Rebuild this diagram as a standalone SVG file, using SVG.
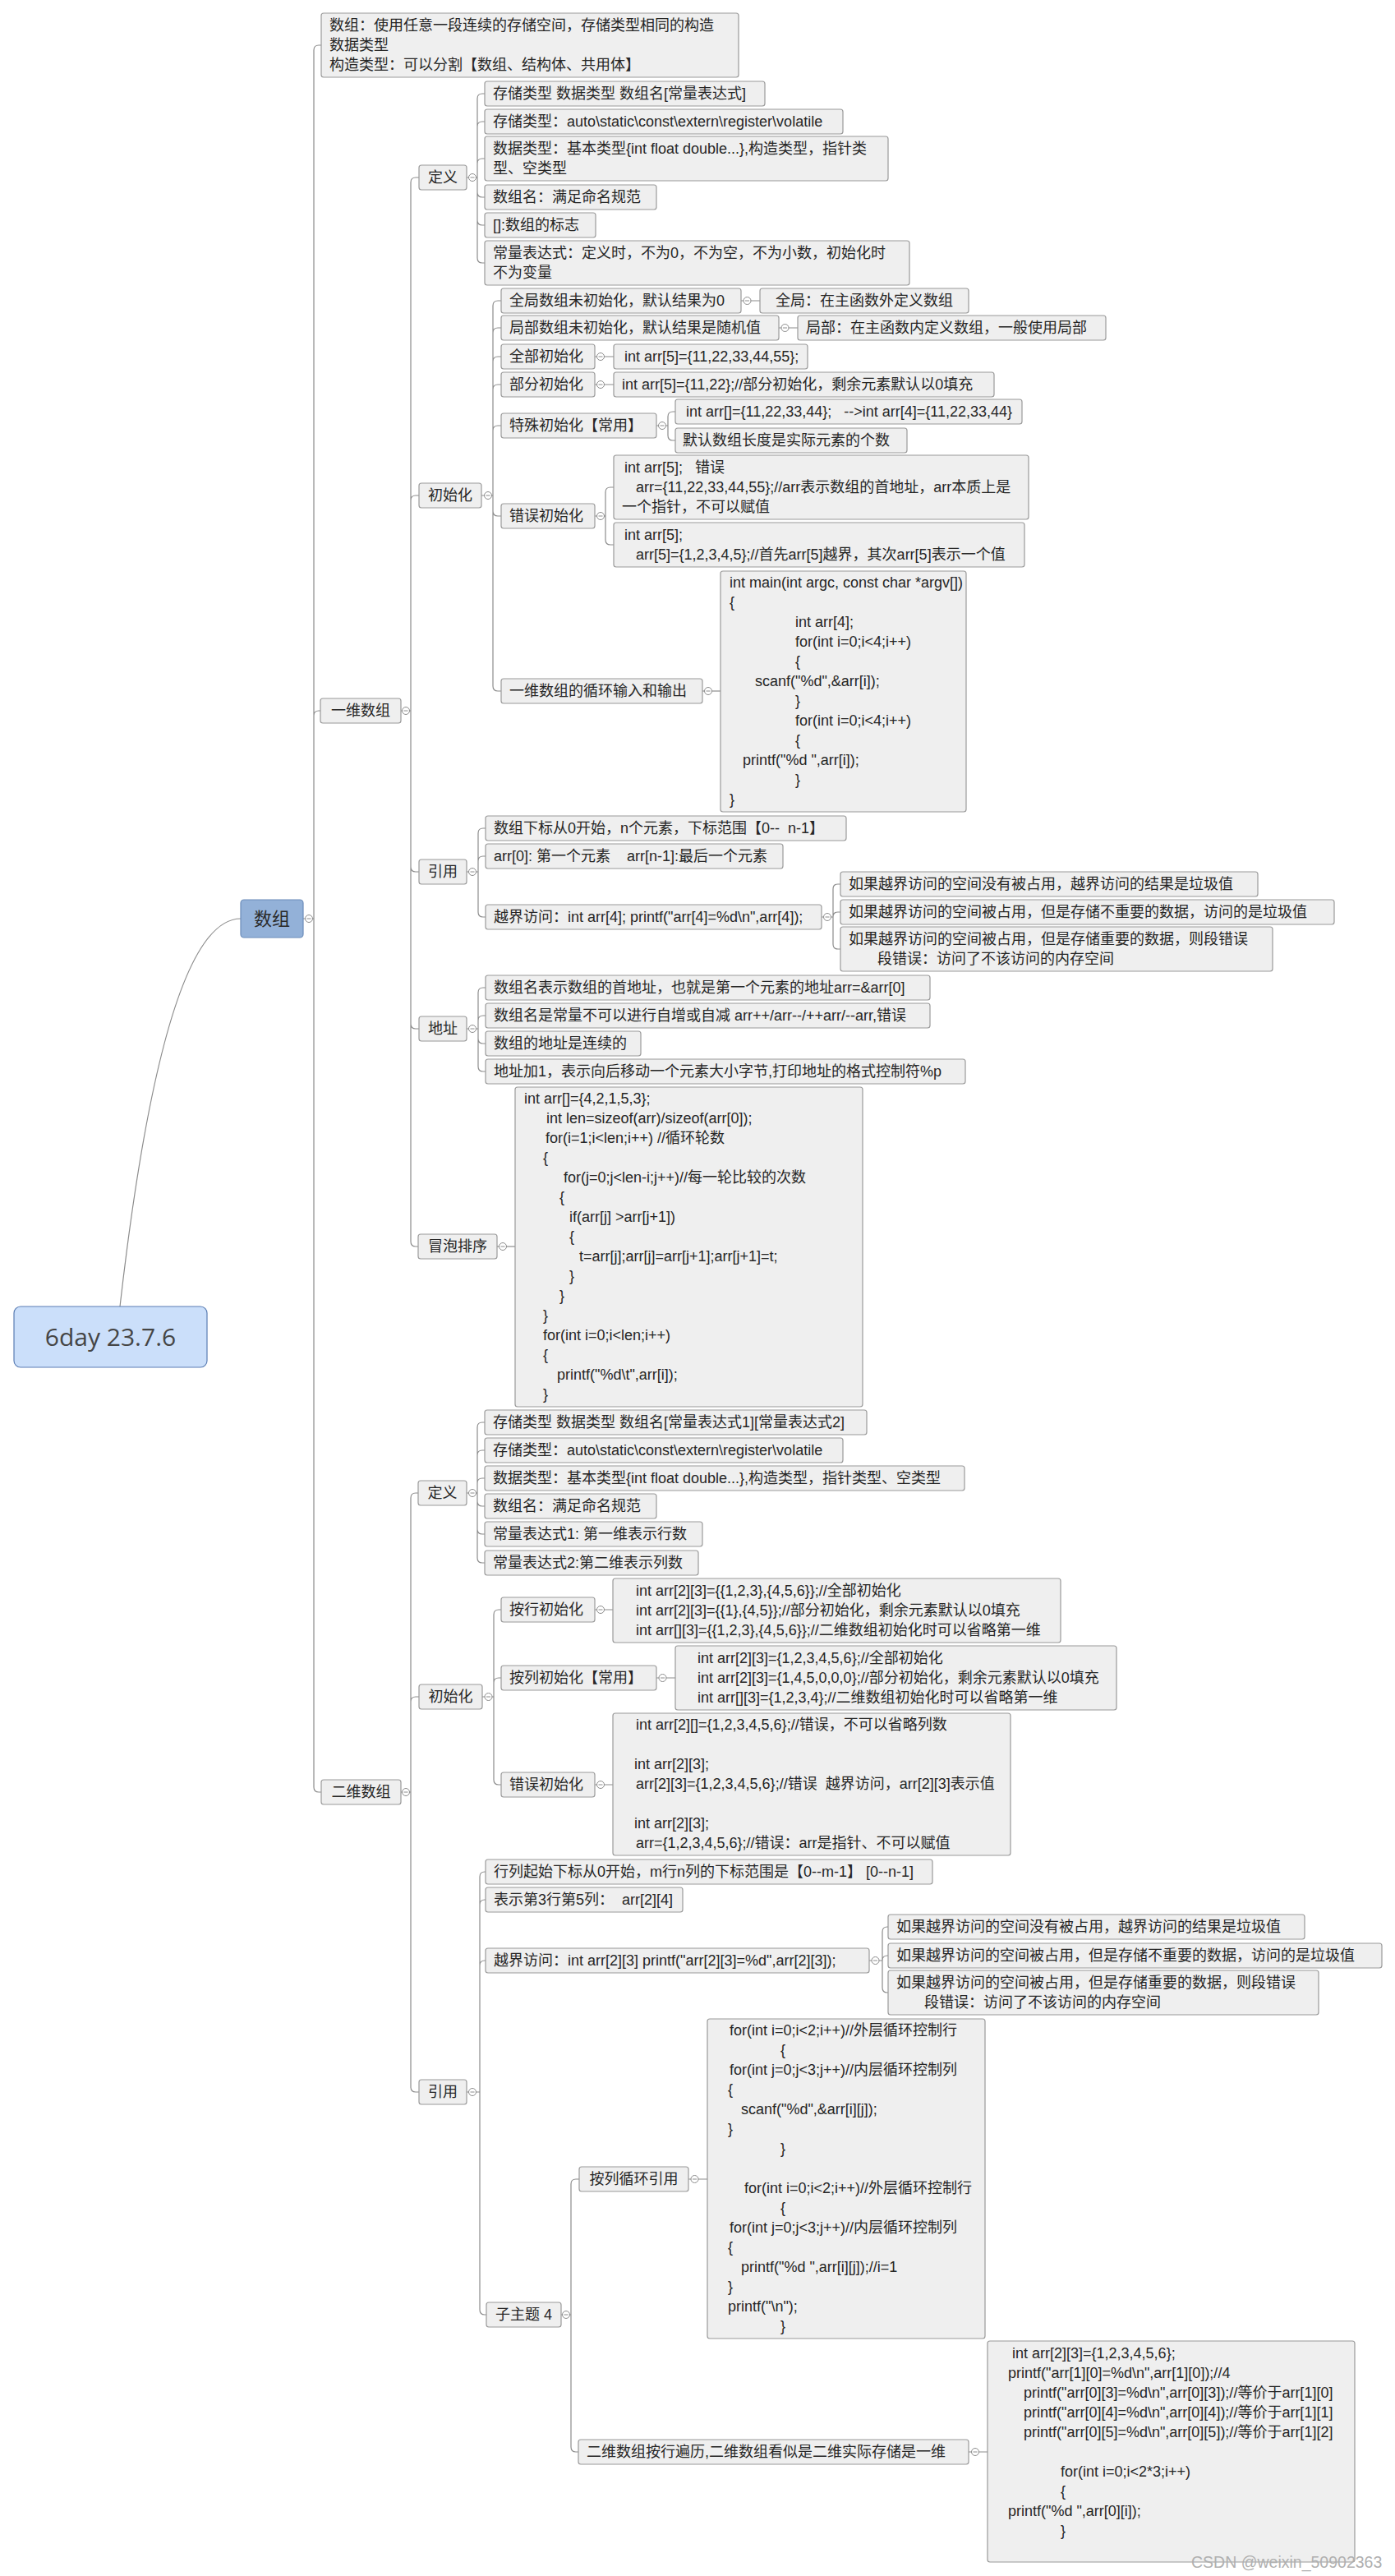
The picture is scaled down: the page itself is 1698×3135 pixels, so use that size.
<svg xmlns="http://www.w3.org/2000/svg" xmlns:xlink="http://www.w3.org/1999/xlink" width="1698" height="3135" viewBox="0 0 1698 3135">
<style>
text { font-family: "Liberation Sans", "Noto Sans CJK SC", sans-serif; font-size: 18px; fill: #262626; white-space: pre; }
.nd rect { fill: #efefef; stroke: #9a9a9a; stroke-width: 1.2; }
.lb { text-anchor: middle; }
#connectors path { fill: none; stroke: #8c8c8c; stroke-width: 1.2; }
.cc circle { fill: #ffffff; stroke: #8c8c8c; stroke-width: 1; }
.cc path { fill: none; stroke: #8c8c8c; stroke-width: 1; }
</style>
<defs>
<g id="cc" class="cc"><circle cx="0" cy="0" r="4.5"/><path d="M-2.5,0H2.5"/></g>
</defs>
<rect width="1698" height="3135" fill="#ffffff"/>
<g id="connectors">
<path d="M146,1590Q200,1118 293,1118"/>
<path d="M369,1118H382M382,1118V61Q382,55 388,55H391M382,1118V871Q382,865 388,865H390M382,1118V2175Q382,2181 388,2181H391"/>
<path d="M488,865H500M500,865V222Q500,216 506,216H510M500,865V609Q500,603 506,603H510M500,865V1055Q500,1061 506,1061H510M500,865V1246Q500,1252 506,1252H510M500,865V1511Q500,1517 506,1517H509"/>
<path d="M568,216H581M581,216V120Q581,114 587,114H590M581,216V154Q581,148 587,148H590M581,216V199Q581,193 587,193H590M581,216V234Q581,240 587,240H590M581,216V268Q581,274 587,274H590M581,216V314Q581,320 587,320H590"/>
<path d="M586,603H600M600,603V372Q600,366 606,366H610M600,603V405Q600,399 606,399H610M600,603V440Q600,434 606,434H610M600,603V474Q600,468 606,468H610M600,603V524Q600,518 606,518H610M600,603V622Q600,628 606,628H610M600,603V835Q600,841 606,841H610"/>
<path d="M902,366H925M948,399H971M724,434H747M724,468H747"/>
<path d="M799,518H813M813,518V507Q813,501 819,501H822M813,518V530Q813,536 819,536H822"/>
<path d="M724,628H737M737,628V599Q737,593 743,593H747M737,628V657Q737,663 743,663H747"/>
<path d="M855,841H877"/>
<path d="M568,1061H582M582,1061V1014Q582,1008 588,1008H591M582,1061V1048Q582,1042 588,1042H591M582,1061V1110Q582,1116 588,1116H591"/>
<path d="M1000,1116H1014M1014,1116V1082Q1014,1076 1020,1076H1023M1014,1116Q1014,1110 1020,1110H1023M1014,1116V1149Q1014,1155 1020,1155H1023"/>
<path d="M568,1252H582M582,1252V1208Q582,1202 588,1202H591M582,1252V1242Q582,1236 588,1236H591M582,1252V1264Q582,1270 588,1270H591M582,1252V1298Q582,1304 588,1304H591"/>
<path d="M605,1517H627"/>
<path d="M488,2181H500M500,2181V1823Q500,1817 506,1817H509M500,2181V2071Q500,2065 506,2065H510M500,2181V2540Q500,2546 506,2546H510"/>
<path d="M568,1817H581M581,1817V1737Q581,1731 587,1731H590M581,1817V1771Q581,1765 587,1765H590M581,1817V1805Q581,1799 587,1799H590M581,1817V1827Q581,1833 587,1833H590M581,1817V1861Q581,1867 587,1867H590M581,1817V1896Q581,1902 587,1902H590"/>
<path d="M587,2065H601M601,2065V1965Q601,1959 607,1959H610M601,2065V2048Q601,2042 607,2042H610M601,2065V2166Q601,2172 607,2172H610"/>
<path d="M724,1959H746M799,2042H822M724,2172H746"/>
<path d="M568,2546H584M584,2546V2284Q584,2278 590,2278H591M584,2546V2318Q584,2312 590,2312H591M584,2546V2392Q584,2386 590,2386H591M584,2546V2811Q584,2817 590,2817H592"/>
<path d="M1058,2386H1074M1074,2386V2351Q1074,2345 1080,2345H1081M1074,2386Q1074,2380 1080,2380H1081M1074,2386V2419Q1074,2425 1080,2425H1081"/>
<path d="M683,2817H695M695,2817V2658Q695,2652 701,2652H705M695,2817V2978Q695,2984 701,2984H704"/>
<path d="M838,2652H861M1179,2984H1202"/>
<use xlink:href="#cc" x="376" y="1118"/>
<use xlink:href="#cc" x="494" y="865"/>
<use xlink:href="#cc" x="575" y="216"/>
<use xlink:href="#cc" x="594" y="603"/>
<use xlink:href="#cc" x="909.5" y="366"/>
<use xlink:href="#cc" x="955.5" y="399"/>
<use xlink:href="#cc" x="731" y="434"/>
<use xlink:href="#cc" x="731" y="468"/>
<use xlink:href="#cc" x="806" y="518"/>
<use xlink:href="#cc" x="731" y="628"/>
<use xlink:href="#cc" x="862" y="841"/>
<use xlink:href="#cc" x="575" y="1061"/>
<use xlink:href="#cc" x="1007" y="1116"/>
<use xlink:href="#cc" x="575" y="1252"/>
<use xlink:href="#cc" x="612" y="1517"/>
<use xlink:href="#cc" x="494" y="2181"/>
<use xlink:href="#cc" x="575" y="1817"/>
<use xlink:href="#cc" x="594.5" y="2065"/>
<use xlink:href="#cc" x="731" y="1959"/>
<use xlink:href="#cc" x="806.5" y="2042"/>
<use xlink:href="#cc" x="731" y="2172"/>
<use xlink:href="#cc" x="575" y="2546"/>
<use xlink:href="#cc" x="1065.5" y="2386"/>
<use xlink:href="#cc" x="689" y="2817"/>
<use xlink:href="#cc" x="845.5" y="2652"/>
<use xlink:href="#cc" x="1187" y="2984"/>
</g>

<g id="n-root"><rect x="17" y="1590" width="235" height="74" rx="8" fill="#cbdffa" stroke="#5a7db3" stroke-width="1.2"/><text x="134.5" y="1638" class="lb" style="font-family:'Open Sans','Liberation Sans',sans-serif;font-size:30px;fill:#454545">6day 23.7.6</text></g>
<g id="n-shuzu"><rect x="293" y="1095" width="76" height="46" rx="4" fill="#93b1d8" stroke="#6b8cb9" stroke-width="1.2"/><text x="331" y="1126" class="lb" style="font-size:22px;fill:#2a2a2a">数组</text></g>

<g id="n-desc" class="nd"><rect x="391" y="16" width="508" height="78" rx="3"/><text x="401" y="37">数组：使用任意一段连续的存储空间，存储类型相同的构造</text><text x="401" y="61">数据类型</text><text x="401" y="85">构造类型：可以分割【数组、结构体、共用体】</text></g>

<g id="n-1d" class="nd"><rect x="390" y="850" width="98" height="30" rx="3"/><text x="439" y="871" class="lb">一维数组</text></g>

<g id="n-1d-def" class="nd"><rect x="510" y="201" width="58" height="30" rx="3"/><text x="539" y="222" class="lb">定义</text></g>
<g id="n-1d-def-a" class="nd"><rect x="590" y="99" width="341" height="30" rx="3"/><text x="600" y="120">存储类型 数据类型 数组名[常量表达式]</text></g>
<g id="n-1d-def-b" class="nd"><rect x="590" y="133" width="436" height="30" rx="3"/><text x="600" y="154">存储类型：auto\static\const\extern\register\volatile</text></g>
<g id="n-1d-def-c" class="nd"><rect x="590" y="166" width="491" height="54" rx="3"/><text x="600" y="187">数据类型：基本类型{int float double...},构造类型，指针类</text><text x="600" y="211">型、空类型</text></g>
<g id="n-1d-def-d" class="nd"><rect x="590" y="225" width="209" height="30" rx="3"/><text x="600" y="246">数组名：满足命名规范</text></g>
<g id="n-1d-def-e" class="nd"><rect x="590" y="259" width="135" height="30" rx="3"/><text x="600" y="280">[]:数组的标志</text></g>
<g id="n-1d-def-f" class="nd"><rect x="590" y="293" width="517" height="54" rx="3"/><text x="600" y="314">常量表达式：定义时，不为0，不为空，不为小数，初始化时</text><text x="600" y="338">不为变量</text></g>

<g id="n-1d-init" class="nd"><rect x="510" y="588" width="76" height="30" rx="3"/><text x="548" y="609" class="lb">初始化</text></g>
<g id="n-1d-init-a" class="nd"><rect x="610" y="351" width="292" height="30" rx="3"/><text x="620" y="372">全局数组未初始化，默认结果为0</text></g>
<g id="n-1d-init-a1" class="nd"><rect x="925" y="351" width="254" height="30" rx="3"/><text x="944" y="372">全局：在主函数外定义数组</text></g>
<g id="n-1d-init-b" class="nd"><rect x="610" y="384" width="338" height="30" rx="3"/><text x="620" y="405">局部数组未初始化，默认结果是随机值</text></g>
<g id="n-1d-init-b1" class="nd"><rect x="971" y="384" width="375" height="30" rx="3"/><text x="981" y="405">局部：在主函数内定义数组，一般使用局部</text></g>
<g id="n-1d-init-c" class="nd"><rect x="610" y="419" width="114" height="30" rx="3"/><text x="620" y="440">全部初始化</text></g>
<g id="n-1d-init-c1" class="nd"><rect x="747" y="419" width="236" height="30" rx="3"/><text x="760" y="440">int arr[5]={11,22,33,44,55};</text></g>
<g id="n-1d-init-d" class="nd"><rect x="610" y="453" width="114" height="30" rx="3"/><text x="620" y="474">部分初始化</text></g>
<g id="n-1d-init-d1" class="nd"><rect x="747" y="453" width="463" height="30" rx="3"/><text x="757" y="474">int arr[5]={11,22};//部分初始化，剩余元素默认以0填充</text></g>
<g id="n-1d-init-e" class="nd"><rect x="610" y="503" width="189" height="30" rx="3"/><text x="620" y="524">特殊初始化【常用】</text></g>
<g id="n-1d-init-e1" class="nd"><rect x="822" y="486" width="422" height="30" rx="3"/><text x="835" y="507">int arr[]={11,22,33,44};   --&gt;int arr[4]={11,22,33,44}</text></g>
<g id="n-1d-init-e2" class="nd"><rect x="822" y="521" width="282" height="30" rx="3"/><text x="831" y="542">默认数组长度是实际元素的个数</text></g>
<g id="n-1d-init-f" class="nd"><rect x="610" y="613" width="114" height="30" rx="3"/><text x="620" y="634">错误初始化</text></g>
<g id="n-1d-init-f1" class="nd"><rect x="747" y="554" width="505" height="78" rx="3"/><text x="760" y="575">int arr[5];   错误</text><text x="774" y="599">arr={11,22,33,44,55};//arr表示数组的首地址，arr本质上是</text><text x="757" y="623">一个指针，不可以赋值</text></g>
<g id="n-1d-init-f2" class="nd"><rect x="747" y="636" width="500" height="54" rx="3"/><text x="760" y="657">int arr[5];</text><text x="774" y="681">arr[5]={1,2,3,4,5};//首先arr[5]越界，其次arr[5]表示一个值</text></g>
<g id="n-1d-init-g" class="nd"><rect x="610" y="826" width="245" height="30" rx="3"/><text x="620" y="847">一维数组的循环输入和输出</text></g>
<g id="n-1d-init-g1" class="nd"><rect x="877" y="695" width="299" height="293" rx="3"/>
<text x="888" y="715">int main(int argc, const char *argv[])</text>
<text x="888" y="739">{</text>
<text x="968" y="763">int arr[4];</text>
<text x="968" y="787">for(int i=0;i&lt;4;i++)</text>
<text x="968" y="811">{</text>
<text x="919" y="835">scanf("%d",&amp;arr[i]);</text>
<text x="968" y="859">}</text>
<text x="968" y="883">for(int i=0;i&lt;4;i++)</text>
<text x="968" y="907">{</text>
<text x="904" y="931">printf("%d ",arr[i]);</text>
<text x="968" y="955">}</text>
<text x="888" y="979">}</text>
</g>

<g id="n-1d-ref" class="nd"><rect x="510" y="1046" width="58" height="30" rx="3"/><text x="539" y="1067" class="lb">引用</text></g>
<g id="n-1d-ref-a" class="nd"><rect x="591" y="993" width="439" height="30" rx="3"/><text x="601" y="1014">数组下标从0开始，n个元素，下标范围【0--  n-1】</text></g>
<g id="n-1d-ref-b" class="nd"><rect x="591" y="1027" width="362" height="30" rx="3"/><text x="601" y="1048">arr[0]: 第一个元素    arr[n-1]:最后一个元素</text></g>
<g id="n-1d-ref-c" class="nd"><rect x="591" y="1101" width="409" height="30" rx="3"/><text x="601" y="1122">越界访问：int arr[4]; printf("arr[4]=%d\n",arr[4]);</text></g>
<g id="n-1d-ref-c1" class="nd"><rect x="1023" y="1061" width="508" height="30" rx="3"/><text x="1033" y="1082">如果越界访问的空间没有被占用，越界访问的结果是垃圾值</text></g>
<g id="n-1d-ref-c2" class="nd"><rect x="1023" y="1095" width="601" height="30" rx="3"/><text x="1033" y="1116">如果越界访问的空间被占用，但是存储不重要的数据，访问的是垃圾值</text></g>
<g id="n-1d-ref-c3" class="nd"><rect x="1023" y="1128" width="526" height="54" rx="3"/><text x="1033" y="1149">如果越界访问的空间被占用，但是存储重要的数据，则段错误</text><text x="1068" y="1173">段错误：访问了不该访问的内存空间</text></g>

<g id="n-1d-addr" class="nd"><rect x="510" y="1237" width="58" height="30" rx="3"/><text x="539" y="1258" class="lb">地址</text></g>
<g id="n-1d-addr-a" class="nd"><rect x="591" y="1187" width="541" height="30" rx="3"/><text x="601" y="1208">数组名表示数组的首地址，也就是第一个元素的地址arr=&amp;arr[0]</text></g>
<g id="n-1d-addr-b" class="nd"><rect x="591" y="1221" width="541" height="30" rx="3"/><text x="601" y="1242">数组名是常量不可以进行自增或自减 arr++/arr--/++arr/--arr,错误</text></g>
<g id="n-1d-addr-c" class="nd"><rect x="591" y="1255" width="189" height="30" rx="3"/><text x="601" y="1276">数组的地址是连续的</text></g>
<g id="n-1d-addr-d" class="nd"><rect x="591" y="1289" width="584" height="30" rx="3"/><text x="601" y="1310">地址加1，表示向后移动一个元素大小字节,打印地址的格式控制符%p</text></g>

<g id="n-1d-bubble" class="nd"><rect x="509" y="1502" width="96" height="30" rx="3"/><text x="557" y="1523" class="lb">冒泡排序</text></g>
<g id="n-1d-bubble-code" class="nd"><rect x="627" y="1323" width="423" height="389" rx="3"/>
<text x="638" y="1343">int arr[]={4,2,1,5,3};</text>
<text x="665" y="1367">int len=sizeof(arr)/sizeof(arr[0]);</text>
<text x="664" y="1391">for(i=1;i&lt;len;i++) //循环轮数</text>
<text x="661" y="1415">{</text>
<text x="686" y="1439">for(j=0;j&lt;len-i;j++)//每一轮比较的次数</text>
<text x="681" y="1463">{</text>
<text x="693" y="1487">if(arr[j] &gt;arr[j+1])</text>
<text x="693" y="1511">{</text>
<text x="705" y="1535">t=arr[j];arr[j]=arr[j+1];arr[j+1]=t;</text>
<text x="693" y="1559">}</text>
<text x="681" y="1583">}</text>
<text x="661" y="1607">}</text>
<text x="661" y="1631">for(int i=0;i&lt;len;i++)</text>
<text x="661" y="1655">{</text>
<text x="678" y="1679">printf("%d\t",arr[i]);</text>
<text x="661" y="1703">}</text>
</g>

<g id="n-2d" class="nd"><rect x="391" y="2166" width="97" height="30" rx="3"/><text x="439.5" y="2187" class="lb">二维数组</text></g>

<g id="n-2d-def" class="nd"><rect x="509" y="1802" width="59" height="30" rx="3"/><text x="538.5" y="1823" class="lb">定义</text></g>
<g id="n-2d-def-a" class="nd"><rect x="590" y="1716" width="465" height="30" rx="3"/><text x="600" y="1737">存储类型 数据类型 数组名[常量表达式1][常量表达式2]</text></g>
<g id="n-2d-def-b" class="nd"><rect x="590" y="1750" width="436" height="30" rx="3"/><text x="600" y="1771">存储类型：auto\static\const\extern\register\volatile</text></g>
<g id="n-2d-def-c" class="nd"><rect x="590" y="1784" width="584" height="30" rx="3"/><text x="600" y="1805">数据类型：基本类型{int float double...},构造类型，指针类型、空类型</text></g>
<g id="n-2d-def-d" class="nd"><rect x="590" y="1818" width="209" height="30" rx="3"/><text x="600" y="1839">数组名：满足命名规范</text></g>
<g id="n-2d-def-e" class="nd"><rect x="590" y="1852" width="265" height="30" rx="3"/><text x="600" y="1873">常量表达式1: 第一维表示行数</text></g>
<g id="n-2d-def-f" class="nd"><rect x="590" y="1887" width="260" height="30" rx="3"/><text x="600" y="1908">常量表达式2:第二维表示列数</text></g>

<g id="n-2d-init" class="nd"><rect x="510" y="2050" width="77" height="30" rx="3"/><text x="548.5" y="2071" class="lb">初始化</text></g>
<g id="n-2d-init-a" class="nd"><rect x="610" y="1944" width="114" height="30" rx="3"/><text x="620" y="1965">按行初始化</text></g>
<g id="n-2d-init-a1" class="nd"><rect x="746" y="1921" width="545" height="78" rx="3"/><text x="774" y="1942">int arr[2][3]={{1,2,3},{4,5,6}};//全部初始化</text><text x="774" y="1966">int arr[2][3]={{1},{4,5}};//部分初始化，剩余元素默认以0填充</text><text x="774" y="1990">int arr[][3]={{1,2,3},{4,5,6}};//二维数组初始化时可以省略第一维</text></g>
<g id="n-2d-init-b" class="nd"><rect x="610" y="2027" width="189" height="30" rx="3"/><text x="620" y="2048">按列初始化【常用】</text></g>
<g id="n-2d-init-b1" class="nd"><rect x="822" y="2003" width="537" height="78" rx="3"/><text x="849" y="2024">int arr[2][3]={1,2,3,4,5,6};//全部初始化</text><text x="849" y="2048">int arr[2][3]={1,4,5,0,0,0};//部分初始化，剩余元素默认以0填充</text><text x="849" y="2072">int arr[][3]={1,2,3,4};//二维数组初始化时可以省略第一维</text></g>
<g id="n-2d-init-c" class="nd"><rect x="610" y="2157" width="114" height="30" rx="3"/><text x="620" y="2178">错误初始化</text></g>
<g id="n-2d-init-c1" class="nd"><rect x="746" y="2085" width="484" height="173" rx="3"/><text x="774" y="2105">int arr[2][]={1,2,3,4,5,6};//错误，不可以省略列数</text><text x="772" y="2153">int arr[2][3];</text><text x="774" y="2177">arr[2][3]={1,2,3,4,5,6};//错误  越界访问，arr[2][3]表示值</text><text x="772" y="2225">int arr[2][3];</text><text x="774" y="2249">arr={1,2,3,4,5,6};//错误：arr是指针、不可以赋值</text></g>

<g id="n-2d-ref" class="nd"><rect x="510" y="2531" width="58" height="30" rx="3"/><text x="539" y="2552" class="lb">引用</text></g>
<g id="n-2d-ref-a" class="nd"><rect x="591" y="2263" width="544" height="30" rx="3"/><text x="601" y="2284">行列起始下标从0开始，m行n列的下标范围是【0--m-1】 [0--n-1]</text></g>
<g id="n-2d-ref-b" class="nd"><rect x="591" y="2297" width="240" height="30" rx="3"/><text x="601" y="2318">表示第3行第5列：  arr[2][4]</text></g>
<g id="n-2d-ref-c" class="nd"><rect x="591" y="2371" width="467" height="30" rx="3"/><text x="601" y="2392">越界访问：int arr[2][3] printf("arr[2][3]=%d",arr[2][3]);</text></g>
<g id="n-2d-ref-c1" class="nd"><rect x="1081" y="2330" width="507" height="30" rx="3"/><text x="1091" y="2351">如果越界访问的空间没有被占用，越界访问的结果是垃圾值</text></g>
<g id="n-2d-ref-c2" class="nd"><rect x="1081" y="2365" width="601" height="30" rx="3"/><text x="1091" y="2386">如果越界访问的空间被占用，但是存储不重要的数据，访问的是垃圾值</text></g>
<g id="n-2d-ref-c3" class="nd"><rect x="1081" y="2398" width="524" height="54" rx="3"/><text x="1091" y="2419">如果越界访问的空间被占用，但是存储重要的数据，则段错误</text><text x="1125" y="2443">段错误：访问了不该访问的内存空间</text></g>
<g id="n-2d-ref-d" class="nd"><rect x="592" y="2802" width="91" height="30" rx="3"/><text x="637.5" y="2823" class="lb">子主题 4</text></g>
<g id="n-2d-ref-d1" class="nd"><rect x="705" y="2637" width="133" height="30" rx="3"/><text x="771.5" y="2658" class="lb">按列循环引用</text></g>
<g id="n-2d-ref-d1-code" class="nd"><rect x="861" y="2457" width="338" height="389" rx="3"/>
<text x="888" y="2477">for(int i=0;i&lt;2;i++)//外层循环控制行</text>
<text x="950" y="2501">{</text>
<text x="888" y="2525">for(int j=0;j&lt;3;j++)//内层循环控制列</text>
<text x="886" y="2549">{</text>
<text x="902" y="2573">scanf("%d",&amp;arr[i][j]);</text>
<text x="886" y="2597">}</text>
<text x="950" y="2621">}</text>
<text x="906" y="2669">for(int i=0;i&lt;2;i++)//外层循环控制行</text>
<text x="950" y="2693">{</text>
<text x="888" y="2717">for(int j=0;j&lt;3;j++)//内层循环控制列</text>
<text x="886" y="2741">{</text>
<text x="902" y="2765">printf("%d ",arr[i][j]);//i=1</text>
<text x="886" y="2789">}</text>
<text x="886" y="2813">printf("\n");</text>
<text x="950" y="2837">}</text>
</g>
<g id="n-2d-ref-d2" class="nd"><rect x="704" y="2969" width="475" height="30" rx="3"/><text x="714" y="2990">二维数组按行遍历,二维数组看似是二维实际存储是一维</text></g>
<g id="n-2d-ref-d2-code" class="nd"><rect x="1202" y="2849" width="447" height="269" rx="3"/>
<text x="1232" y="2870">int arr[2][3]={1,2,3,4,5,6};</text>
<text x="1227" y="2894">printf("arr[1][0]=%d\n",arr[1][0]);//4</text>
<text x="1246" y="2918">printf("arr[0][3]=%d\n",arr[0][3]);//等价于arr[1][0]</text>
<text x="1246" y="2942">printf("arr[0][4]=%d\n",arr[0][4]);//等价于arr[1][1]</text>
<text x="1246" y="2966">printf("arr[0][5]=%d\n",arr[0][5]);//等价于arr[1][2]</text>
<text x="1291" y="3014">for(int i=0;i&lt;2*3;i++)</text>
<text x="1291" y="3038">{</text>
<text x="1227" y="3062">printf("%d ",arr[0][i]);</text>
<text x="1291" y="3086">}</text>
</g>

<text x="1450" y="3125" style="font-size:19.5px;fill:#b0b0b0">CSDN @weixin_50902363</text>
</svg>
